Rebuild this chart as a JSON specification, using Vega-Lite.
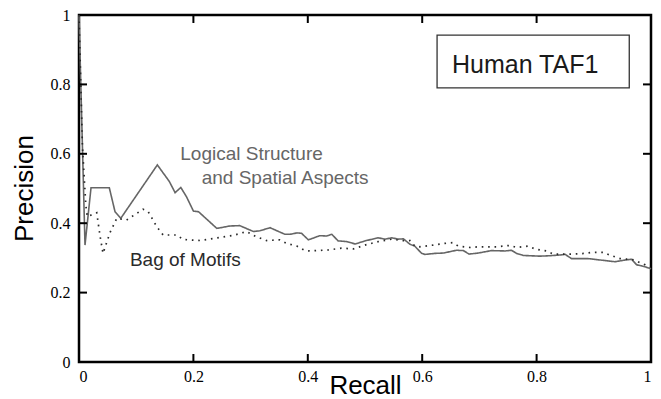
{
  "$schema": "https://vega.github.io/schema/vega-lite/v6.json",
  "width": 572,
  "height": 347,
  "autosize": "none",
  "padding": {"left": 79, "top": 15, "right": 10, "bottom": 37},
  "background": "white",
  "config": {
    "view": {"stroke": "black", "strokeWidth": 2.5},
    "axis": {"grid": false, "domain": false, "ticks": false, "labelColor": "black", "labelFont": "Liberation Serif", "labelFontSize": 16, "titleFont": "Liberation Sans", "titleFontSize": 26, "titleFontWeight": "normal", "titleColor": "black"}
  },
  "datasets": {
    "curves": [
      {"series": "Logical Structure and Spatial Aspects", "recall": 0, "precision": 1},
      {"series": "Logical Structure and Spatial Aspects", "recall": 0.0105, "precision": 0.337},
      {"series": "Logical Structure and Spatial Aspects", "recall": 0.021, "precision": 0.502},
      {"series": "Logical Structure and Spatial Aspects", "recall": 0.053, "precision": 0.502},
      {"series": "Logical Structure and Spatial Aspects", "recall": 0.063, "precision": 0.433},
      {"series": "Logical Structure and Spatial Aspects", "recall": 0.073, "precision": 0.414},
      {"series": "Logical Structure and Spatial Aspects", "recall": 0.137, "precision": 0.568},
      {"series": "Logical Structure and Spatial Aspects", "recall": 0.158, "precision": 0.52},
      {"series": "Logical Structure and Spatial Aspects", "recall": 0.168, "precision": 0.488},
      {"series": "Logical Structure and Spatial Aspects", "recall": 0.178, "precision": 0.503},
      {"series": "Logical Structure and Spatial Aspects", "recall": 0.188, "precision": 0.476},
      {"series": "Logical Structure and Spatial Aspects", "recall": 0.2, "precision": 0.435},
      {"series": "Logical Structure and Spatial Aspects", "recall": 0.209, "precision": 0.433},
      {"series": "Logical Structure and Spatial Aspects", "recall": 0.241, "precision": 0.385},
      {"series": "Logical Structure and Spatial Aspects", "recall": 0.264, "precision": 0.392},
      {"series": "Logical Structure and Spatial Aspects", "recall": 0.281, "precision": 0.393},
      {"series": "Logical Structure and Spatial Aspects", "recall": 0.305, "precision": 0.376},
      {"series": "Logical Structure and Spatial Aspects", "recall": 0.316, "precision": 0.378},
      {"series": "Logical Structure and Spatial Aspects", "recall": 0.334, "precision": 0.387},
      {"series": "Logical Structure and Spatial Aspects", "recall": 0.36, "precision": 0.368},
      {"series": "Logical Structure and Spatial Aspects", "recall": 0.369, "precision": 0.368},
      {"series": "Logical Structure and Spatial Aspects", "recall": 0.381, "precision": 0.372},
      {"series": "Logical Structure and Spatial Aspects", "recall": 0.389, "precision": 0.371},
      {"series": "Logical Structure and Spatial Aspects", "recall": 0.401, "precision": 0.352},
      {"series": "Logical Structure and Spatial Aspects", "recall": 0.421, "precision": 0.364},
      {"series": "Logical Structure and Spatial Aspects", "recall": 0.433, "precision": 0.363},
      {"series": "Logical Structure and Spatial Aspects", "recall": 0.442, "precision": 0.368},
      {"series": "Logical Structure and Spatial Aspects", "recall": 0.453, "precision": 0.349},
      {"series": "Logical Structure and Spatial Aspects", "recall": 0.468, "precision": 0.347},
      {"series": "Logical Structure and Spatial Aspects", "recall": 0.483, "precision": 0.34},
      {"series": "Logical Structure and Spatial Aspects", "recall": 0.5, "precision": 0.349},
      {"series": "Logical Structure and Spatial Aspects", "recall": 0.523, "precision": 0.358},
      {"series": "Logical Structure and Spatial Aspects", "recall": 0.535, "precision": 0.354},
      {"series": "Logical Structure and Spatial Aspects", "recall": 0.547, "precision": 0.358},
      {"series": "Logical Structure and Spatial Aspects", "recall": 0.558, "precision": 0.354},
      {"series": "Logical Structure and Spatial Aspects", "recall": 0.567, "precision": 0.355},
      {"series": "Logical Structure and Spatial Aspects", "recall": 0.579, "precision": 0.339},
      {"series": "Logical Structure and Spatial Aspects", "recall": 0.587, "precision": 0.334},
      {"series": "Logical Structure and Spatial Aspects", "recall": 0.599, "precision": 0.313},
      {"series": "Logical Structure and Spatial Aspects", "recall": 0.605, "precision": 0.31},
      {"series": "Logical Structure and Spatial Aspects", "recall": 0.622, "precision": 0.313},
      {"series": "Logical Structure and Spatial Aspects", "recall": 0.637, "precision": 0.314},
      {"series": "Logical Structure and Spatial Aspects", "recall": 0.66, "precision": 0.322},
      {"series": "Logical Structure and Spatial Aspects", "recall": 0.672, "precision": 0.321},
      {"series": "Logical Structure and Spatial Aspects", "recall": 0.682, "precision": 0.311},
      {"series": "Logical Structure and Spatial Aspects", "recall": 0.698, "precision": 0.314},
      {"series": "Logical Structure and Spatial Aspects", "recall": 0.721, "precision": 0.321},
      {"series": "Logical Structure and Spatial Aspects", "recall": 0.745, "precision": 0.32},
      {"series": "Logical Structure and Spatial Aspects", "recall": 0.756, "precision": 0.322},
      {"series": "Logical Structure and Spatial Aspects", "recall": 0.765, "precision": 0.313},
      {"series": "Logical Structure and Spatial Aspects", "recall": 0.777, "precision": 0.307},
      {"series": "Logical Structure and Spatial Aspects", "recall": 0.806, "precision": 0.305},
      {"series": "Logical Structure and Spatial Aspects", "recall": 0.82, "precision": 0.306},
      {"series": "Logical Structure and Spatial Aspects", "recall": 0.838, "precision": 0.308},
      {"series": "Logical Structure and Spatial Aspects", "recall": 0.85, "precision": 0.31},
      {"series": "Logical Structure and Spatial Aspects", "recall": 0.861, "precision": 0.298},
      {"series": "Logical Structure and Spatial Aspects", "recall": 0.89, "precision": 0.298},
      {"series": "Logical Structure and Spatial Aspects", "recall": 0.937, "precision": 0.289},
      {"series": "Logical Structure and Spatial Aspects", "recall": 0.955, "precision": 0.294},
      {"series": "Logical Structure and Spatial Aspects", "recall": 0.966, "precision": 0.296},
      {"series": "Logical Structure and Spatial Aspects", "recall": 0.975, "precision": 0.28},
      {"series": "Logical Structure and Spatial Aspects", "recall": 0.984, "precision": 0.277},
      {"series": "Logical Structure and Spatial Aspects", "recall": 0.998, "precision": 0.27},
      {"series": "Logical Structure and Spatial Aspects", "recall": 1.0, "precision": 0.268},
      {"series": "Bag of Motifs", "recall": 0, "precision": 1},
      {"series": "Bag of Motifs", "recall": 0.006, "precision": 0.62},
      {"series": "Bag of Motifs", "recall": 0.012, "precision": 0.45},
      {"series": "Bag of Motifs", "recall": 0.0146, "precision": 0.419},
      {"series": "Bag of Motifs", "recall": 0.022, "precision": 0.424},
      {"series": "Bag of Motifs", "recall": 0.031, "precision": 0.43},
      {"series": "Bag of Motifs", "recall": 0.037, "precision": 0.361},
      {"series": "Bag of Motifs", "recall": 0.042, "precision": 0.313},
      {"series": "Bag of Motifs", "recall": 0.054, "precision": 0.372},
      {"series": "Bag of Motifs", "recall": 0.066, "precision": 0.414},
      {"series": "Bag of Motifs", "recall": 0.083, "precision": 0.409},
      {"series": "Bag of Motifs", "recall": 0.112, "precision": 0.44},
      {"series": "Bag of Motifs", "recall": 0.121, "precision": 0.433},
      {"series": "Bag of Motifs", "recall": 0.136, "precision": 0.39},
      {"series": "Bag of Motifs", "recall": 0.147, "precision": 0.366},
      {"series": "Bag of Motifs", "recall": 0.171, "precision": 0.366},
      {"series": "Bag of Motifs", "recall": 0.182, "precision": 0.353},
      {"series": "Bag of Motifs", "recall": 0.212, "precision": 0.35},
      {"series": "Bag of Motifs", "recall": 0.235, "precision": 0.356},
      {"series": "Bag of Motifs", "recall": 0.27, "precision": 0.365},
      {"series": "Bag of Motifs", "recall": 0.293, "precision": 0.376},
      {"series": "Bag of Motifs", "recall": 0.31, "precision": 0.361},
      {"series": "Bag of Motifs", "recall": 0.328, "precision": 0.35},
      {"series": "Bag of Motifs", "recall": 0.351, "precision": 0.352},
      {"series": "Bag of Motifs", "recall": 0.363, "precision": 0.342},
      {"series": "Bag of Motifs", "recall": 0.381, "precision": 0.334},
      {"series": "Bag of Motifs", "recall": 0.395, "precision": 0.321},
      {"series": "Bag of Motifs", "recall": 0.404, "precision": 0.32},
      {"series": "Bag of Motifs", "recall": 0.436, "precision": 0.323},
      {"series": "Bag of Motifs", "recall": 0.459, "precision": 0.328},
      {"series": "Bag of Motifs", "recall": 0.48, "precision": 0.326},
      {"series": "Bag of Motifs", "recall": 0.5, "precision": 0.337},
      {"series": "Bag of Motifs", "recall": 0.523, "precision": 0.347},
      {"series": "Bag of Motifs", "recall": 0.547, "precision": 0.354},
      {"series": "Bag of Motifs", "recall": 0.564, "precision": 0.35},
      {"series": "Bag of Motifs", "recall": 0.579, "precision": 0.35},
      {"series": "Bag of Motifs", "recall": 0.587, "precision": 0.334},
      {"series": "Bag of Motifs", "recall": 0.596, "precision": 0.332},
      {"series": "Bag of Motifs", "recall": 0.619, "precision": 0.337},
      {"series": "Bag of Motifs", "recall": 0.64, "precision": 0.342},
      {"series": "Bag of Motifs", "recall": 0.653, "precision": 0.344},
      {"series": "Bag of Motifs", "recall": 0.663, "precision": 0.334},
      {"series": "Bag of Motifs", "recall": 0.684, "precision": 0.33},
      {"series": "Bag of Motifs", "recall": 0.698, "precision": 0.332},
      {"series": "Bag of Motifs", "recall": 0.73, "precision": 0.332},
      {"series": "Bag of Motifs", "recall": 0.754, "precision": 0.336},
      {"series": "Bag of Motifs", "recall": 0.765, "precision": 0.33},
      {"series": "Bag of Motifs", "recall": 0.785, "precision": 0.334},
      {"series": "Bag of Motifs", "recall": 0.797, "precision": 0.326},
      {"series": "Bag of Motifs", "recall": 0.806, "precision": 0.323},
      {"series": "Bag of Motifs", "recall": 0.818, "precision": 0.32},
      {"series": "Bag of Motifs", "recall": 0.829, "precision": 0.311},
      {"series": "Bag of Motifs", "recall": 0.861, "precision": 0.311},
      {"series": "Bag of Motifs", "recall": 0.885, "precision": 0.313},
      {"series": "Bag of Motifs", "recall": 0.896, "precision": 0.316},
      {"series": "Bag of Motifs", "recall": 0.917, "precision": 0.316},
      {"series": "Bag of Motifs", "recall": 0.928, "precision": 0.308},
      {"series": "Bag of Motifs", "recall": 0.946, "precision": 0.298},
      {"series": "Bag of Motifs", "recall": 0.96, "precision": 0.296},
      {"series": "Bag of Motifs", "recall": 0.972, "precision": 0.294},
      {"series": "Bag of Motifs", "recall": 0.981, "precision": 0.286},
      {"series": "Bag of Motifs", "recall": 0.99, "precision": 0.28},
      {"series": "Bag of Motifs", "recall": 0.998, "precision": 0.273}
    ],
    "labels": [
      {"series": "Logical Structure and Spatial Aspects", "label": "Logical Structure", "recall": 0.177, "precision": 0.599},
      {"series": "Logical Structure and Spatial Aspects", "label": "and Spatial Aspects", "recall": 0.2145, "precision": 0.53},
      {"series": "Bag of Motifs", "label": "Bag of Motifs", "recall": 0.089, "precision": 0.294}
    ],
    "box": [
      {"label": "Human TAF1", "x1": 0.626, "x2": 0.962, "y1": 0.79, "y2": 0.942, "cx": 0.78, "cy": 0.856}
    ],
    "tickvals": [
      {"v": 0.2}, {"v": 0.4}, {"v": 0.6}, {"v": 0.8}
    ]
  },
  "layer": [
    {
      "data": {"name": "curves"},
      "mark": {"type": "line", "strokeCap": "butt", "strokeJoin": "miter"},
      "encoding": {
        "x": {"field": "recall", "type": "quantitative", "scale": {"domain": [0, 1], "nice": false, "zero": false},
          "axis": {"orient": "bottom", "values": [0, 0.2, 0.4, 0.6, 0.8, 1], "format": "~g", "labelPadding": 6, "title": "Recall", "titleY": 31, "titleBaseline": "alphabetic"}},
        "y": {"field": "precision", "type": "quantitative", "scale": {"domain": [0, 1], "nice": false, "zero": false},
          "axis": {"orient": "left", "values": [0, 0.2, 0.4, 0.6, 0.8, 1], "format": "~g", "labelPadding": 9, "title": "Precision", "titleX": -47, "titleY": 173, "titleAngle": -90, "titleBaseline": "alphabetic", "titleAlign": "center"}},
        "color": {"field": "series", "type": "nominal", "scale": {"domain": ["Logical Structure and Spatial Aspects", "Bag of Motifs"], "range": ["#666666", "#2a2a2a"]}, "legend": null},
        "strokeDash": {"field": "series", "type": "nominal", "scale": {"domain": ["Logical Structure and Spatial Aspects", "Bag of Motifs"], "range": [[1, 0], [1.6, 4.8]]}, "legend": null},
        "strokeWidth": {"field": "series", "type": "nominal", "scale": {"domain": ["Logical Structure and Spatial Aspects", "Bag of Motifs"], "range": [1.6, 1.7]}, "legend": null}
      }
    },
    {
      "data": {"name": "tickvals"},
      "mark": {"type": "rule", "color": "#000000", "strokeWidth": 2, "opacity": 1},
      "encoding": {"x": {"field": "v", "type": "quantitative"}, "y": {"datum": 0}, "y2": {"datum": 0.023}}
    },
    {
      "data": {"name": "tickvals"},
      "mark": {"type": "rule", "color": "#000000", "strokeWidth": 2, "opacity": 1},
      "encoding": {"x": {"field": "v", "type": "quantitative"}, "y": {"datum": 1}, "y2": {"datum": 0.977}}
    },
    {
      "data": {"name": "tickvals"},
      "mark": {"type": "rule", "color": "#000000", "strokeWidth": 2, "opacity": 1},
      "encoding": {"y": {"field": "v", "type": "quantitative"}, "x": {"datum": 0}, "x2": {"datum": 0.014}}
    },
    {
      "data": {"name": "tickvals"},
      "mark": {"type": "rule", "color": "#000000", "strokeWidth": 2, "opacity": 1},
      "encoding": {"y": {"field": "v", "type": "quantitative"}, "x": {"datum": 1}, "x2": {"datum": 0.986}}
    },
    {
      "data": {"name": "box"},
      "mark": {"type": "rect", "filled": false, "stroke": "#333333", "strokeWidth": 1.3},
      "encoding": {
        "x": {"field": "x1", "type": "quantitative"},
        "x2": {"field": "x2"},
        "y": {"field": "y1", "type": "quantitative"},
        "y2": {"field": "y2"}
      }
    },
    {
      "data": {"name": "box"},
      "mark": {"type": "text", "font": "Liberation Sans", "fontSize": 25, "color": "#1a1a1a", "align": "center", "baseline": "middle"},
      "encoding": {
        "x": {"field": "cx", "type": "quantitative"},
        "y": {"field": "cy", "type": "quantitative"},
        "text": {"field": "label"}
      }
    },
    {
      "data": {"name": "labels"},
      "mark": {"type": "text", "font": "Liberation Sans", "fontSize": 19, "align": "left", "baseline": "middle"},
      "encoding": {
        "x": {"field": "recall", "type": "quantitative"},
        "y": {"field": "precision", "type": "quantitative"},
        "text": {"field": "label"},
        "color": {"field": "series", "type": "nominal", "legend": null}
      }
    }
  ]
}
